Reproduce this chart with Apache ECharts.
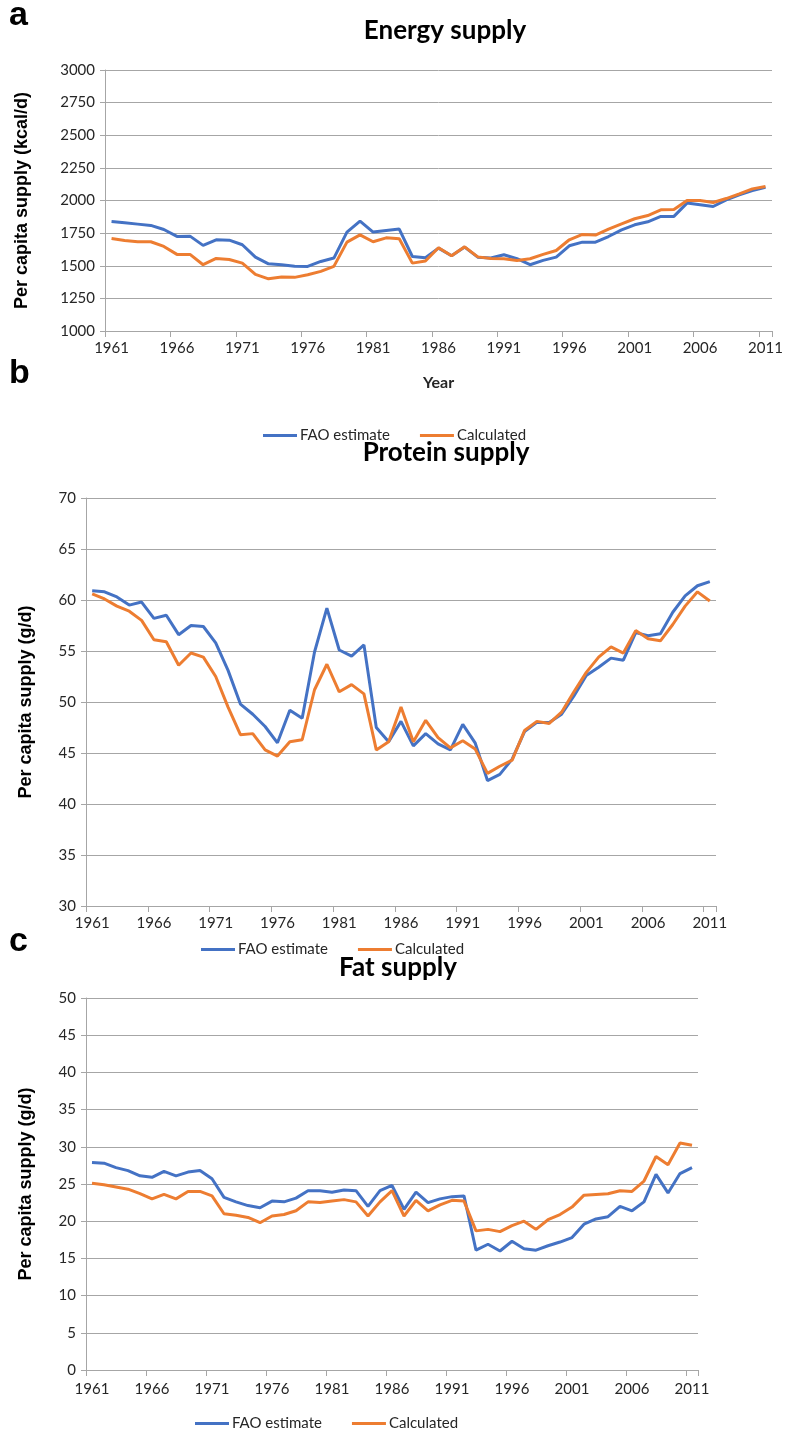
<!DOCTYPE html>
<html>
<head>
<meta charset="utf-8">
<script src="https://cdn.jsdelivr.net/npm/echarts@6/dist/echarts.min.js"></script>
<style>
html,body{margin:0;padding:0;background:#fff;}
#chart{width:786px;height:1435px;}
</style>
</head>
<body>
<div id="chart"></div>
<script>
const years = [];
for (let y = 1961; y <= 2011; y++) years.push(String(y));

const energyFao = [1839,1829,1819,1809,1778,1725,1727,1656,1699,1696,1661,1566,1515,1508,1497,1495,1533,1559,1758,1842,1758,1770,1781,1571,1561,1635,1576,1643,1566,1559,1584,1554,1508,1541,1566,1653,1681,1681,1724,1775,1814,1837,1878,1878,1980,1967,1954,2005,2043,2076,2102];
const energyCalc = [1709,1694,1684,1684,1648,1587,1587,1508,1556,1548,1520,1434,1400,1413,1411,1431,1457,1495,1681,1737,1684,1714,1707,1520,1536,1638,1576,1645,1568,1556,1554,1541,1554,1587,1617,1699,1740,1735,1781,1821,1860,1885,1929,1931,2000,2000,1985,2015,2051,2089,2107];

const proteinFao = [60.9,60.8,60.3,59.5,59.8,58.2,58.5,56.6,57.5,57.4,55.8,53.1,49.8,48.8,47.6,46.0,49.2,48.4,54.9,59.2,55.1,54.5,55.6,47.5,46.1,48.1,45.7,46.9,45.9,45.3,47.8,46.0,42.3,42.9,44.4,47.1,48.0,48.0,48.8,50.6,52.6,53.4,54.3,54.1,56.8,56.5,56.7,58.8,60.4,61.4,61.8];
const proteinCalc = [60.6,60.1,59.4,58.9,58.0,56.1,55.9,53.6,54.8,54.4,52.5,49.5,46.8,46.9,45.3,44.7,46.1,46.3,51.2,53.7,51.0,51.7,50.8,45.3,46.1,49.5,46.1,48.2,46.5,45.5,46.2,45.4,43.0,43.7,44.3,47.2,48.1,47.9,49.0,51.0,52.9,54.4,55.4,54.8,57.0,56.2,56.0,57.6,59.4,60.8,59.9];

const fatFao = [27.9,27.8,27.2,26.8,26.1,25.9,26.7,26.1,26.6,26.8,25.7,23.2,22.6,22.1,21.8,22.7,22.6,23.1,24.1,24.1,23.9,24.2,24.1,22.0,24.1,24.8,21.6,23.9,22.5,23.0,23.3,23.4,16.1,16.9,16.0,17.3,16.3,16.1,16.7,17.2,17.8,19.6,20.3,20.6,22.0,21.4,22.6,26.3,23.8,26.4,27.2];
const fatCalc = [25.1,24.9,24.6,24.3,23.7,23.0,23.6,23.0,24.0,24.0,23.4,21.0,20.8,20.5,19.8,20.7,20.9,21.4,22.6,22.5,22.7,22.9,22.6,20.7,22.6,24.1,20.7,22.8,21.4,22.2,22.8,22.7,18.7,18.9,18.6,19.4,20.0,18.9,20.2,20.9,21.9,23.5,23.6,23.7,24.1,24.0,25.4,28.7,27.6,30.5,30.2];

const seriesNames = ['FAO estimate', 'Calculated'];
const colors = ['#4472C4', '#ED7D31'];

const txt = '#262626';
const grid = '#A6A6A6';
const lblFont = 'Lato, "Open Sans", sans-serif';

function xAxis(gi, labelMargin, name) {
  return {
    type: 'category', gridIndex: gi, data: years, boundaryGap: true,
    axisLine: {show: true, lineStyle: {color: grid, width: 1}},
    axisTick: {show: true, interval: 4, length: 6, lineStyle: {color: grid}},
    axisLabel: {interval: 4, color: txt, fontSize: 15, fontFamily: lblFont, margin: labelMargin},
    name: name || '', nameLocation: 'middle', nameGap: 44,
    nameTextStyle: {color: txt, fontSize: 16, fontWeight: 'bold', fontFamily: lblFont}
  };
}
function yAxis(gi, min, max, interval, name, nameGap) {
  return {
    type: 'value', gridIndex: gi, min: min, max: max, interval: interval,
    axisLine: {show: true, lineStyle: {color: grid, width: 1}},
    axisTick: {show: true, length: 5, lineStyle: {color: grid}},
    splitLine: {show: true, lineStyle: {color: grid, width: 1}},
    axisLabel: {color: txt, fontSize: 15, fontFamily: lblFont, margin: 10, formatter: v => String(v)},
    name: name, nameLocation: 'middle', nameRotate: 90, nameGap: nameGap,
    nameTextStyle: {color: '#000', fontSize: 18, fontWeight: 'bold', fontFamily: '"Liberation Sans", Arial, sans-serif'}
  };
}
function line(name, data, gi, ci) {
  return {
    type: 'line', name: name, data: data, xAxisIndex: gi, yAxisIndex: gi,
    symbol: 'none', smooth: false,
    lineStyle: {color: colors[ci], width: 3},
    itemStyle: {color: colors[ci]}
  };
}
function legend(left, top) {
  return {
    data: seriesNames, left: left, top: top, orient: 'horizontal',
    icon: 'rect', itemWidth: 34, itemHeight: 3, itemGap: 30,
    textStyle: {color: txt, fontSize: 15, fontFamily: lblFont, padding: [0,0,0,-2]},
    selectedMode: false
  };
}
function letterTitle(t, top) {
  return {text: t, left: 4, top: top, textStyle: {fontSize: 34, fontWeight: 'bold', color: '#000', fontFamily: '"Liberation Sans", Arial, sans-serif'}};
}
function mainTitle(t, cx, top) {
  return {text: t, left: cx, top: top, textAlign: 'center', textStyle: {fontSize: 26, fontWeight: 'bold', color: '#000', fontFamily: lblFont}};
}

const chart = echarts.init(document.getElementById('chart'), null, {renderer: 'canvas'});
chart.setOption({
  animation: false,
  backgroundColor: '#fff',
  title: [
    letterTitle('a', -6), mainTitle('Energy supply', 440, 13),
    letterTitle('b', 352), mainTitle('Protein supply', 441, 435),
    letterTitle('c', 920), mainTitle('Fat supply', 393, 950)
  ],
  legend: [legend(258, 423), legend(196, 937), legend(190, 1411)],
  grid: [
    {left: 105, width: 667, top: 70, height: 261},
    {left: 86, width: 630, top: 498, height: 408},
    {left: 86, width: 612, top: 998, height: 372}
  ],
  xAxis: [xAxis(0, 10, 'Year'), xAxis(1, 10), xAxis(2, 12)],
  yAxis: [
    yAxis(0, 1000, 3000, 250, 'Per capita supply (kcal/d)', 74),
    yAxis(1, 30, 70, 5, 'Per capita supply (g/d)', 51),
    yAxis(2, 0, 50, 5, 'Per capita supply (g/d)', 51)
  ],
  series: [
    line(seriesNames[0], energyFao, 0, 0), line(seriesNames[1], energyCalc, 0, 1),
    line(seriesNames[0], proteinFao, 1, 0), line(seriesNames[1], proteinCalc, 1, 1),
    line(seriesNames[0], fatFao, 2, 0), line(seriesNames[1], fatCalc, 2, 1)
  ]
});
</script>
</body>
</html>
